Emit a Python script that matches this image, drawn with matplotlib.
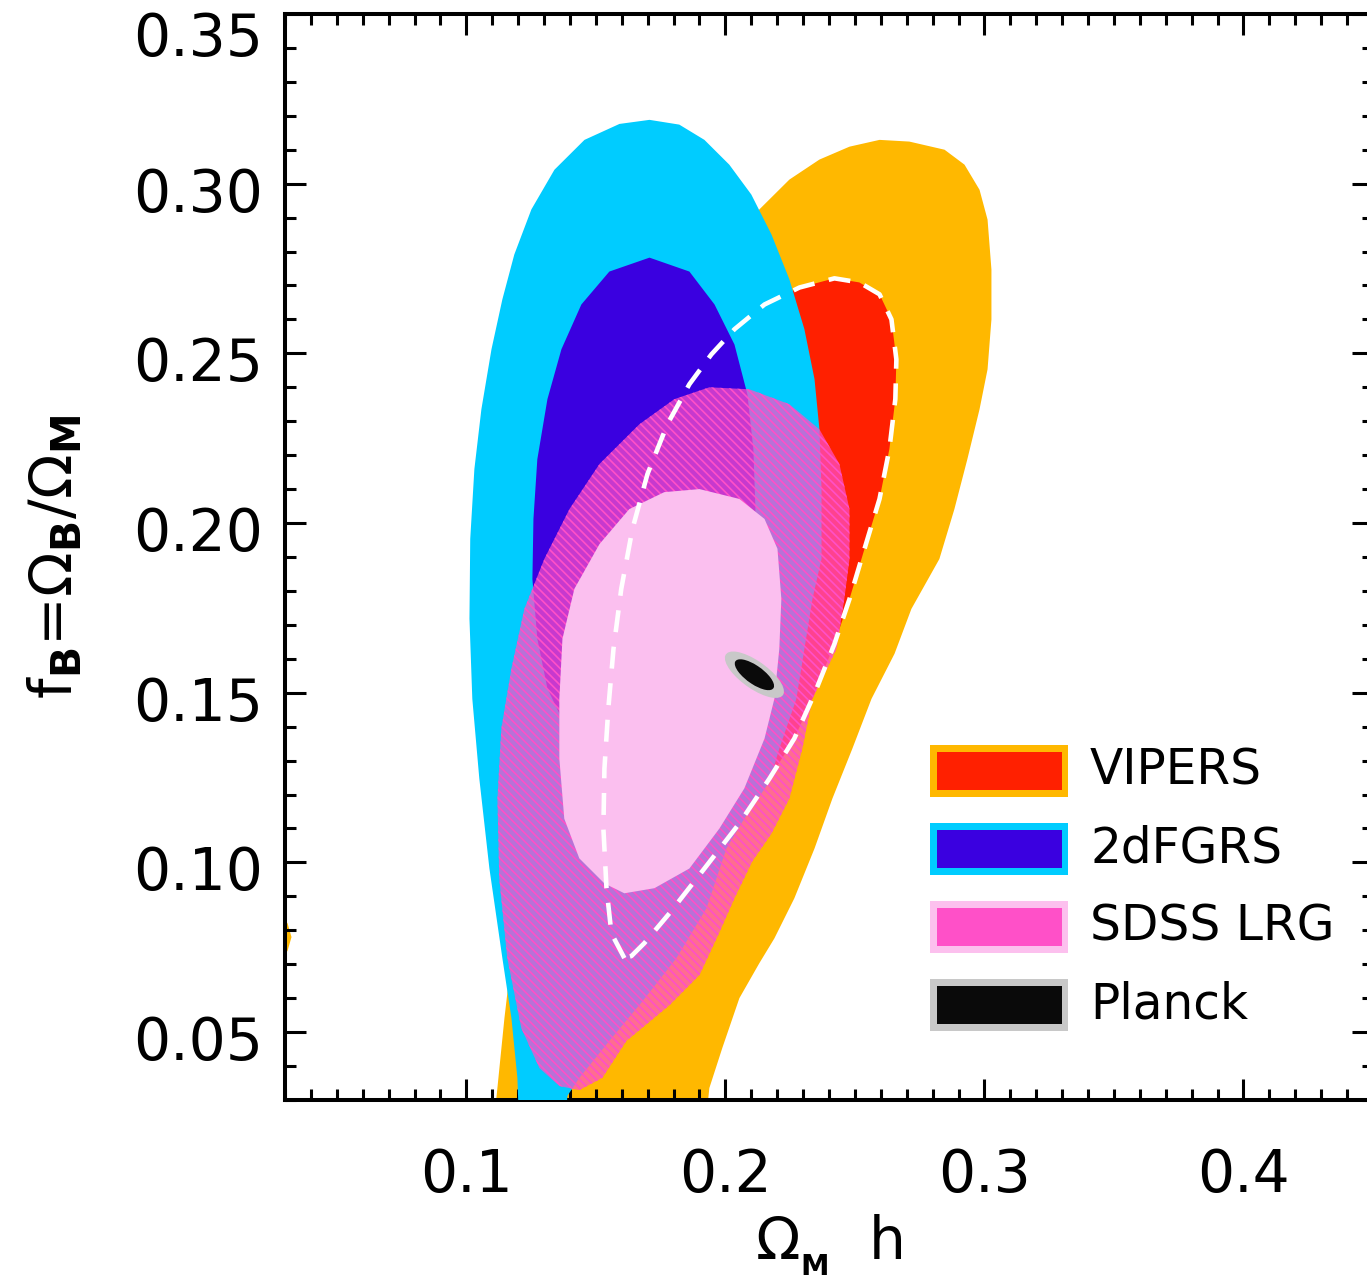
import numpy as np
import matplotlib
matplotlib.use('Agg')
from matplotlib import pyplot as plt
from matplotlib.patches import Rectangle, Ellipse
from matplotlib.ticker import MultipleLocator, FormatStrFormatter
from matplotlib.transforms import ScaledTranslation

# contour outlines (x = Omega_M h, y = f_B)
vipers_2s_x = [0.110, 0.1116, 0.1147, 0.1174, 0.1224, 0.1301, 0.1398, 0.1514, 0.1649, 0.1784, 0.1919,
               0.2035, 0.2131, 0.2247, 0.2363, 0.2479, 0.2595, 0.2710, 0.2846, 0.2923, 0.2981, 0.3012,
               0.3027, 0.3027, 0.3012, 0.2981, 0.2934, 0.2884, 0.2826, 0.2718, 0.2653, 0.2564, 0.2490,
               0.2413, 0.2344, 0.2266, 0.2189, 0.2131, 0.2054, 0.1988, 0.1938, 0.192]
vipers_2s_y = [0.020, 0.0306, 0.0541, 0.0718, 0.0953, 0.1218, 0.1482, 0.1776, 0.2071, 0.2365, 0.2629,
               0.2821, 0.2924, 0.3012, 0.3071, 0.3109, 0.3129, 0.3124, 0.3100, 0.3056, 0.2982, 0.2894,
               0.2747, 0.2600, 0.2453, 0.2335, 0.2188, 0.2041, 0.1894, 0.1747, 0.1615, 0.1482, 0.1335,
               0.1188, 0.1041, 0.0894, 0.0776, 0.0703, 0.0600, 0.0453, 0.0335, 0.020]
# small 2-sigma island at the left edge
vipers_2s_isl_x = [0.027, 0.0285, 0.031, 0.0325, 0.031, 0.0285, 0.027]
vipers_2s_isl_y = [0.086, 0.085, 0.082, 0.078, 0.074, 0.071, 0.070]

vipers_1s_x = [0.1610, 0.1560, 0.1541, 0.1529, 0.1533, 0.1548, 0.1568, 0.1598, 0.1641, 0.1699, 0.1776,
               0.1861, 0.1946, 0.2035, 0.2151, 0.2286, 0.2421, 0.2517, 0.2595, 0.2641, 0.2660, 0.2656,
               0.2633, 0.2595, 0.2537, 0.2479, 0.2421, 0.2344, 0.2266, 0.2170, 0.2054, 0.1919, 0.1784,
               0.1687, 0.1637]
vipers_1s_y = [0.0718, 0.0791, 0.0924, 0.1100, 0.1276, 0.1453, 0.1629, 0.1806, 0.1982, 0.2144, 0.2291,
               0.2409, 0.2497, 0.2571, 0.2644, 0.2694, 0.2721, 0.2709, 0.2674, 0.2600, 0.2482, 0.2365,
               0.2218, 0.2071, 0.1924, 0.1776, 0.1644, 0.1497, 0.1365, 0.1247, 0.1115, 0.0982, 0.0850,
               0.0762, 0.0724]

twodf_2s_x = [0.1707, 0.1822, 0.1919, 0.2015, 0.2100, 0.2178, 0.2247, 0.2305, 0.2344, 0.2363, 0.2371,
              0.2371, 0.2336, 0.2305, 0.2274, 0.2208, 0.2170, 0.2073, 0.2004, 0.1927, 0.1811, 0.1680,
              0.1552, 0.1436, 0.1390, 0.1380,
              0.1205, 0.1197, 0.1174, 0.1139, 0.1089, 0.1050, 0.1023, 0.1012, 0.1015, 0.1031, 0.1058,
              0.1097, 0.1139, 0.1185, 0.1251, 0.1340, 0.1456, 0.1591]
twodf_2s_y = [0.3188, 0.3174, 0.3129, 0.3056, 0.2968, 0.2850, 0.2718, 0.2571, 0.2424, 0.2276, 0.2100,
              0.1894, 0.1776, 0.1629, 0.1482, 0.1335, 0.1238, 0.1129, 0.1041, 0.0865, 0.0718, 0.0591,
              0.0474, 0.0365, 0.0312, 0.020,
              0.020, 0.0365, 0.0541, 0.0718, 0.0982, 0.1247, 0.1482, 0.1718, 0.1953, 0.2159, 0.2335,
              0.2512, 0.2659, 0.2791, 0.2924, 0.3041, 0.3129, 0.3176]

twodf_1s_x = [0.1707, 0.1861, 0.1958, 0.2035, 0.2085, 0.2108, 0.2116, 0.2100, 0.2054, 0.1958, 0.1822,
              0.1629, 0.1475, 0.1378, 0.1313, 0.1274, 0.1255, 0.1259, 0.1274, 0.1313, 0.1367, 0.1444,
              0.1552]
twodf_1s_y = [0.2782, 0.2741, 0.2644, 0.2526, 0.2379, 0.2218, 0.2041, 0.1835, 0.1629, 0.1453, 0.1335,
              0.1306, 0.1350, 0.1409, 0.1512, 0.1659, 0.1835, 0.2012, 0.2188, 0.2365, 0.2512, 0.2644,
              0.2741]

sdss_2s_x = [0.1938, 0.2093, 0.2247, 0.2363, 0.2440, 0.2479, 0.2479, 0.2459, 0.2429, 0.2336, 0.2297,
             0.2247, 0.2178, 0.2104, 0.2035, 0.1977, 0.1900, 0.1784, 0.1618, 0.1525, 0.1436, 0.1359,
             0.1282, 0.1212, 0.1158, 0.1127, 0.1120, 0.1135, 0.1174, 0.1224, 0.1301, 0.1398, 0.1514,
             0.1668, 0.1803]
sdss_2s_y = [0.2400, 0.2394, 0.2350, 0.2276, 0.2174, 0.2041, 0.1894, 0.1776, 0.1629, 0.1482, 0.1335,
             0.1188, 0.1085, 0.1003, 0.0894, 0.0794, 0.0668, 0.0579, 0.0474, 0.0365, 0.0329, 0.0341,
             0.0394, 0.0512, 0.0718, 0.0953, 0.1188, 0.1394, 0.1571, 0.1747, 0.1894, 0.2041, 0.2174,
             0.2291, 0.2365]

sdss_1s_x = [0.1900, 0.2054, 0.2151, 0.2201, 0.2216, 0.2208, 0.2189, 0.2151, 0.2073, 0.1977, 0.1861,
             0.1726, 0.1610, 0.1533, 0.1436, 0.1378, 0.1359, 0.1359, 0.1371, 0.1417, 0.1514, 0.1629,
             0.1764]
sdss_1s_y = [0.2100, 0.2071, 0.2012, 0.1924, 0.1776, 0.1629, 0.1482, 0.1365, 0.1218, 0.1100, 0.0982,
             0.0924, 0.0909, 0.0938, 0.1012, 0.1129, 0.1306, 0.1482, 0.1659, 0.1806, 0.1938, 0.2041,
             0.2091]

# Planck: gaussian approximation
planck_mean = (0.2112, 0.1553)
planck_sig = (0.0050, 0.0030)
planck_rho = -0.72
planck_dchi2 = [5.2, 2.30]

labels = ['VIPERS', '2dFGRS', 'SDSS LRG', 'Planck']
inner_colors = ['#FF2000', '#3A00E0', '#FF50C8', '#0A0A0A']
outer_colors = ['#FFB800', '#00CCFF', '#FCC0EE', '#C8C8C8']

plt.rcParams['font.family'] = ['DejaVu Sans']
plt.rcParams['mathtext.fontset'] = 'dejavusans'
plt.rcParams['hatch.linewidth'] = 1.2

fig = plt.figure(figsize=(13.67, 12.82), dpi=100)
ax = fig.add_axes([0.2085, 0.1420, 0.7959, 0.8471])

ax.fill(vipers_2s_x, vipers_2s_y, color=outer_colors[0], lw=0, zorder=1)
ax.fill(vipers_2s_isl_x, vipers_2s_isl_y, color=outer_colors[0], lw=0, zorder=1)
ax.fill(vipers_1s_x, vipers_1s_y, color=inner_colors[0], lw=0, zorder=2)
ax.fill(twodf_2s_x, twodf_2s_y, color=outer_colors[1], lw=0, zorder=3)
ax.fill(twodf_1s_x, twodf_1s_y, color=inner_colors[1], lw=0, zorder=4)
# SDSS outer: semi-transparent hatched
ax.fill(sdss_2s_x, sdss_2s_y, facecolor=inner_colors[2], alpha=0.72, lw=0, zorder=5)
ax.fill(sdss_2s_x, sdss_2s_y, facecolor='none', edgecolor=inner_colors[2], hatch='\\' * 4, lw=0, zorder=5.1)
ax.fill(sdss_1s_x, sdss_1s_y, color='#FBBFEF', lw=0, zorder=6)
# VIPERS 1-sigma outline on top
ax.plot(vipers_1s_x + vipers_1s_x[:1], vipers_1s_y + vipers_1s_y[:1], color='white', lw=3.3,
        ls=(0, (4.8, 3.2)), zorder=7)

# Planck ellipses
cov = np.array([[planck_sig[0]**2, planck_rho * planck_sig[0] * planck_sig[1]],
                [planck_rho * planck_sig[0] * planck_sig[1], planck_sig[1]**2]])
vals, vecs = np.linalg.eigh(cov)
ang = np.degrees(np.arctan2(vecs[1, 1], vecs[0, 1]))
for d, c in zip(planck_dchi2, [outer_colors[3], inner_colors[3]]):
    ax.add_patch(Ellipse(planck_mean, 2 * np.sqrt(d * vals[1]), 2 * np.sqrt(d * vals[0]),
                         angle=ang, facecolor=c, lw=0, zorder=8))

ax.set_xlim(0.03, 0.45)
ax.set_ylim(0.03, 0.35)
ax.set_xticks([0.1, 0.2, 0.3, 0.4])
ax.set_yticks([0.05, 0.10, 0.15, 0.20, 0.25, 0.30, 0.35])
ax.xaxis.set_major_formatter(FormatStrFormatter('%.1f'))
ax.yaxis.set_major_formatter(FormatStrFormatter('%.2f'))
ax.xaxis.set_minor_locator(MultipleLocator(0.01))
ax.yaxis.set_minor_locator(MultipleLocator(0.01))
ax.tick_params(which='both', direction='in', top=True, right=True, width=2.2, labelsize=42)
ax.tick_params(which='major', length=15)
ax.tick_params(which='minor', length=8)
ax.tick_params(axis='x', pad=34)
ax.tick_params(axis='y', pad=16)
for s in ax.spines.values():
    s.set_linewidth(2.9)

# y labels sit a little below their ticks; the top one is kept inside the figure
yticks = ax.yaxis.get_major_ticks()
for t in yticks[:-1]:
    t.label1.set_transform(t.label1.get_transform() + ScaledTranslation(0, -4 / 72, fig.dpi_scale_trans))
yticks[-1].label1.set_transform(yticks[-1].label1.get_transform()
                                + ScaledTranslation(0, 2.5 / 72, fig.dpi_scale_trans))
yticks[-1].label1.set_va('top')

ax.set_xlabel(r'$\Omega_{_{\mathbf{M}}}$  h', fontsize=42)
ax.set_ylabel(r'f$_{\mathbf{B}}$=$\Omega_{\mathbf{B}}$/$\Omega_{\mathbf{M}}$', fontsize=42)
ax.xaxis.set_label_coords(0.5, -0.104)
ax.yaxis.set_label_coords(-0.184, 0.5)

# legend boxes
for i, (lab, ci, co) in enumerate(zip(labels, inner_colors, outer_colors)):
    y0 = 0.2790 - i * 0.0718
    ax.add_patch(Rectangle((0.5928, y0), 0.1268, 0.0479, transform=ax.transAxes,
                           facecolor=co, lw=0, zorder=10))
    ax.add_patch(Rectangle((0.5993, y0 + 0.0065), 0.1149, 0.0350, transform=ax.transAxes,
                           facecolor=ci, lw=0, zorder=11))
    ax.text(0.7399, y0 + 0.0240, lab, transform=ax.transAxes, fontsize=35,
            va='center', ha='left', zorder=12)

fig.savefig('out.png', dpi=100)
